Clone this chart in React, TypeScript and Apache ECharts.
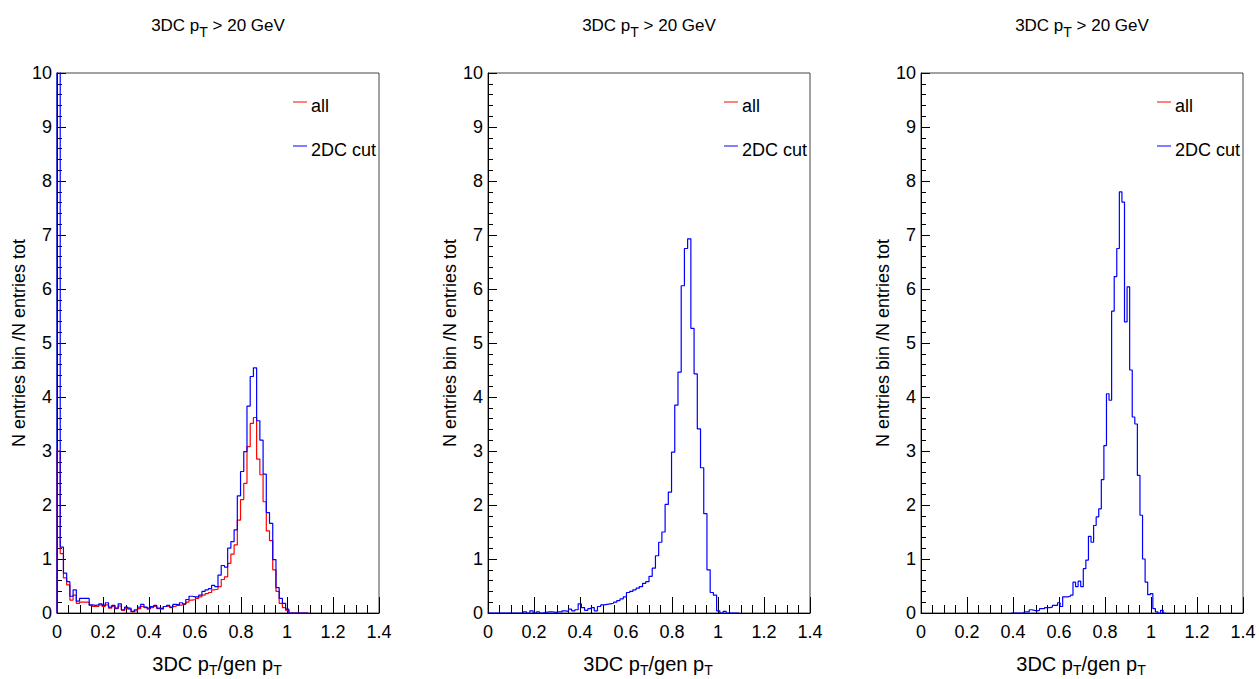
import React, { useEffect, useRef } from "react";
import * as echarts from "echarts";

const FONT = '"Liberation Sans", Arial, Helvetica, sans-serif';

// Binning: panels 1 and 2 use 100 bins over [0, 1.4]; panel 3 uses 125 bins over [0, 1.4]
const binWidthCoarse = 1.4 / 100;
const binWidthFine = 1.4 / 125;
const firstBinCoarse = 0;
const firstBinFine = 35;

// Panel 1, "all" (red), bins 0..77
const allPanel1 = [
  3.0, 1.1, 0.65, 0.52, 0.24, 0.33, 0.18, 0.2, 0.2, 0.2,
  0.14, 0.12, 0.12, 0.15, 0.12, 0.15, 0.09, 0.12, 0.08, 0.13,
  0.05, 0.09, 0.07, 0.02, 0.04, 0.08, 0.12, 0.1, 0.07, 0.1,
  0.12, 0.08, 0.07, 0.12, 0.13, 0.1, 0.12, 0.14, 0.15, 0.16,
  0.2, 0.24, 0.25, 0.27, 0.3, 0.33, 0.36, 0.38, 0.43, 0.44,
  0.49, 0.62, 0.67, 0.92, 1.09, 1.26, 1.72, 2.1, 2.4, 3.08,
  3.51, 3.62, 2.85, 2.56, 2.06, 1.52, 1.34, 0.8, 0.4, 0.18,
  0.1, 0.05, 0, 0, 0, 0, 0, 0,
];

// Panel 1, "2DC cut" (blue), bins 0..77
const cutPanel1 = [
  12.5, 1.22, 0.74, 0.58, 0.31, 0.43, 0.22, 0.27, 0.27, 0.27,
  0.15, 0.14, 0.15, 0.17, 0.14, 0.19, 0.11, 0.14, 0.09, 0.17,
  0.06, 0.11, 0.09, 0.03, 0.06, 0.11, 0.16, 0.11, 0.09, 0.12,
  0.14, 0.09, 0.08, 0.12, 0.14, 0.11, 0.16, 0.15, 0.19, 0.17,
  0.25, 0.31, 0.3, 0.3, 0.33, 0.4, 0.43, 0.45, 0.51, 0.49,
  0.7, 0.88, 0.85, 1.2, 1.32, 1.54, 2.17, 2.62, 2.99, 3.83,
  4.38, 4.54, 3.56, 3.2, 2.57, 1.86, 1.66, 0.99, 0.47, 0.27,
  0.18, 0.07, 0, 0, 0, 0, 0, 0,
];

// Panel 2, "2DC cut" (blue), bins 0..77
const cutPanel2 = [
  0, 0, 0, 0, 0, 0, 0, 0, 0, 0,
  0, 0.02, 0, 0.04, 0, 0.02, 0, 0.01, 0.02, 0.02,
  0.01, 0.02, 0.02, 0.04, 0.03, 0.07, 0.04, 0.06, 0.17, 0.1,
  0.05, 0.08, 0.1, 0.04, 0.12, 0.15, 0.16, 0.17, 0.18, 0.2,
  0.23, 0.26, 0.3, 0.38, 0.4, 0.43, 0.46, 0.49, 0.55, 0.58,
  0.68, 0.83, 1.06, 1.31, 1.5, 2.01, 2.24, 2.98, 3.85, 4.46,
  6.06, 6.75, 6.93, 5.27, 4.43, 3.41, 2.69, 1.84, 0.8, 0.38,
  0.33, 0.04, 0, 0.03, 0, 0, 0, 0,
];

// Panel 3, "2DC cut" (blue), fine bins 35..94
const cutPanel3 = [
  0, 0, 0, 0, 0, 0.02, 0.02, 0.06, 0.05, 0.04,
  0.05, 0.08, 0.08, 0.1, 0.1, 0.11, 0.14, 0.14, 0.19, 0.12,
  0.3, 0.3, 0.31, 0.33, 0.57, 0.49, 0.59, 0.49, 0.82, 0.98,
  1.42, 1.31, 1.62, 1.78, 1.93, 2.47, 3.1, 4.06, 3.94, 5.59,
  6.23, 6.75, 7.8, 7.61, 5.39, 6.04, 4.5, 3.63, 3.5, 2.55,
  1.81, 1.0, 0.57, 0.34, 0.36, 0.08, 0.02, 0, 0.05, 0,
];

const panelTitle = ["3DC p", "T", " > 20 GeV"];
const xAxisTitle = ["3DC p", "T", "/gen p", "T"];
const yAxisTitle = "N entries bin /N entries tot";
const legendLabels = ["all", "2DC cut"];
const legendColors = ["#ff0000", "#0000ff"];

const panelLefts = [57, 488, 921];
const panelWidth = 322;
const panelTop = 73;
const panelHeight = 540;

function histPoints(values: number[], width: number, startBin: number) {
  const pts: number[][] = [[startBin * width, 0]];
  values.forEach((v, i) => pts.push([(startBin + i) * width, v]));
  pts.push([(startBin + values.length) * width, 0]);
  return pts;
}

export default function App() {
  const ref = useRef<HTMLDivElement>(null);

  useEffect(() => {
    if (!ref.current) return;
    const chart = echarts.init(ref.current, undefined, { renderer: "svg" });

    const grids = panelLefts.map((left) => ({
      left,
      top: panelTop,
      width: panelWidth,
      height: panelHeight,
      show: true,
      borderColor: "#444",
      borderWidth: 1,
      backgroundColor: "transparent",
    }));

    const xAxes = panelLefts.map((_, i) => ({
      type: "value",
      gridIndex: i,
      min: 0,
      max: 1.4,
      interval: 0.2,
      axisLine: { show: true, onZero: false, lineStyle: { color: "#000", width: 1 } },
      axisTick: { show: true, inside: true, length: 16, lineStyle: { color: "#000" } },
      minorTick: { show: true, splitNumber: 4, length: 8, lineStyle: { color: "#000" } },
      splitLine: { show: false },
      axisLabel: {
        color: "#000",
        fontSize: 18,
        fontFamily: FONT,
        margin: 10,
        showMinLabel: true,
        showMaxLabel: true,
      },
    }));

    const yAxes = panelLefts.map((_, i) => ({
      type: "value",
      gridIndex: i,
      min: 0,
      max: 10,
      interval: 1,
      name: yAxisTitle,
      nameLocation: "middle",
      nameGap: 29,
      nameRotate: 90,
      nameTextStyle: { color: "#000", fontSize: 18, fontFamily: FONT },
      axisLine: { show: true, onZero: false, lineStyle: { color: "#000", width: 1 } },
      axisTick: { show: true, inside: true, length: 9, lineStyle: { color: "#000" } },
      minorTick: { show: true, splitNumber: 5, length: 5, lineStyle: { color: "#000" } },
      splitLine: { show: false },
      axisLabel: {
        color: "#000",
        fontSize: 18,
        fontFamily: FONT,
        margin: 5,
        showMinLabel: true,
        showMaxLabel: true,
      },
    }));

    const lineSeries = (name: string, color: string, idx: number, data: number[][]) => ({
      name,
      type: "line",
      xAxisIndex: idx,
      yAxisIndex: idx,
      step: "end",
      showSymbol: false,
      symbol: "none",
      clip: true,
      lineStyle: { color, width: 1.2 },
      itemStyle: { color },
      data,
    });

    const series = [
      lineSeries(legendLabels[0], legendColors[0], 0, histPoints(allPanel1, binWidthCoarse, firstBinCoarse)),
      lineSeries(legendLabels[1], legendColors[1], 0, histPoints(cutPanel1, binWidthCoarse, firstBinCoarse)),
      lineSeries(legendLabels[1], legendColors[1], 1, histPoints(cutPanel2, binWidthCoarse, firstBinCoarse)),
      lineSeries(legendLabels[1], legendColors[1], 2, histPoints(cutPanel3, binWidthFine, firstBinFine)),
    ];

    const titleRich = {
      m: { fontSize: 17, lineHeight: 17, verticalAlign: "top", fontFamily: FONT, fill: "#000", color: "#000" },
      s: { fontSize: 14, lineHeight: 14, verticalAlign: "top", fontFamily: FONT, fill: "#000", color: "#000", padding: [8, 0, 0, 0] },
    };
    const axisRich = {
      m: { fontSize: 20, lineHeight: 20, verticalAlign: "top", fontFamily: FONT, fill: "#000", color: "#000" },
      s: { fontSize: 14, lineHeight: 14, verticalAlign: "top", fontFamily: FONT, fill: "#000", color: "#000", padding: [9, 0, 0, 0] },
    };

    const graphic: any[] = [];
    panelLefts.forEach((left) => {
      const cx = left + panelWidth / 2;
      graphic.push({
        type: "text",
        x: cx,
        y: 16.5,
        style: {
          text: `{m|${panelTitle[0]}}{s|${panelTitle[1]}}{m|${panelTitle[2]}}`,
          rich: titleRich,
          align: "center",
          verticalAlign: "top",
          fill: "#000",
          fontFamily: FONT,
        },
      });
      graphic.push({
        type: "text",
        x: cx - 1,
        y: 654,
        style: {
          text: `{m|${xAxisTitle[0]}}{s|${xAxisTitle[1]}}{m|${xAxisTitle[2]}}{s|${xAxisTitle[3]}}`,
          rich: axisRich,
          align: "center",
          verticalAlign: "top",
          fill: "#000",
          fontFamily: FONT,
        },
      });
      legendLabels.forEach((lab, k) => {
        const ly = k === 0 ? 102 : 146;
        graphic.push({
          type: "line",
          shape: { x1: left + 236, y1: ly, x2: left + 250, y2: ly },
          style: { stroke: legendColors[k], lineWidth: 1 },
        });
        graphic.push({
          type: "text",
          x: left + 254,
          y: ly + 4,
          style: {
            text: lab,
            fontSize: 18,
            fontFamily: FONT,
            fill: "#000",
            align: "left",
            verticalAlign: "middle",
          },
        });
      });
    });

    chart.setOption({
      animation: false,
      backgroundColor: "#fff",
      grid: grids,
      xAxis: xAxes,
      yAxis: yAxes,
      series,
      graphic,
    });

    return () => chart.dispose();
  }, []);

  return (
    <div
      ref={ref}
      style={{ position: "absolute", left: 0, top: 0, width: 1259, height: 679 }}
    />
  );
}
